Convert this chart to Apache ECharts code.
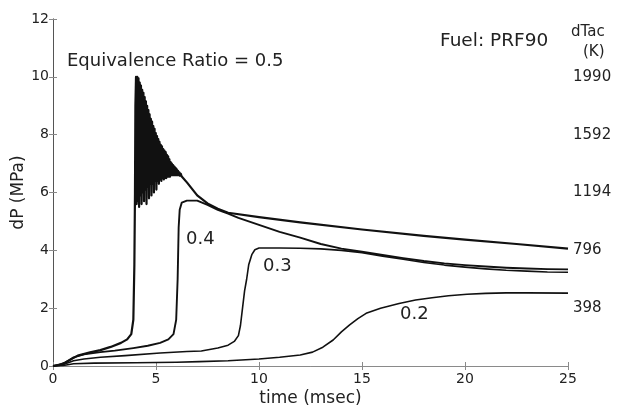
<!DOCTYPE html>
<html>
<head>
<meta charset="utf-8">
<script src="https://cdn.jsdelivr.net/npm/echarts@6/dist/echarts.min.js"></script>
<style>html,body{margin:0;padding:0;background:#fff}#c{width:621px;height:408px}</style>
</head>
<body>
<div id="c"></div>
<script>
// time (msec) / dP (MPa)
const phi05 = [[0,0],[0.3,0.03],[0.6,0.12],[0.85,0.22],[1.2,0.36],[1.8,0.47],[2.3,0.55],[2.8,0.66],[3.3,0.8],[3.6,0.92],[3.8,1.1],[3.9,1.6],[3.95,3.5],[3.98,6],[4.0,9],[4.03,10.0],
  [4.06,5.6],[4.09,10.0],[4.12,5.7],[4.15,9.95],[4.18,5.5],[4.21,9.8],[4.24,5.9],[4.27,9.7],[4.30,5.6],[4.33,9.55],[4.36,6.0],[4.39,9.45],[4.42,5.7],[4.45,9.3],[4.48,6.1],[4.51,9.15],[4.54,5.6],[4.57,9.0],[4.60,6.2],[4.63,8.85],[4.66,5.8],[4.69,8.7],[4.72,6.3],[4.75,8.55],[4.78,5.9],[4.81,8.45],[4.84,6.3],[4.87,8.3],[4.90,6.0],[4.93,8.2],[4.96,6.4],[4.99,8.05],[5.02,6.1],[5.05,7.95],[5.08,6.4],[5.11,7.85],[5.14,6.3],[5.17,7.75],[5.20,6.45],[5.23,7.65],[5.26,6.4],[5.29,7.6],[5.32,6.5],[5.35,7.5],[5.38,6.45],[5.41,7.45],[5.44,6.5],[5.47,7.4],[5.50,6.5],[5.53,7.3],[5.56,6.55],[5.59,7.25],[5.62,6.55],[5.65,7.15],[5.68,6.55],[5.71,7.05],[5.74,6.6],[5.77,7.0],[5.80,6.6],[5.83,6.95],[5.86,6.6],[5.89,6.9],[5.92,6.6],[5.95,6.85],[5.98,6.6],[6.01,6.8],[6.04,6.6],[6.07,6.75],[6.10,6.6],[6.13,6.7],[6.16,6.58],[6.20,6.65],[6.25,6.55],
  [6.5,6.35],[7.0,5.9],[7.5,5.62],[8.0,5.44],[8.5,5.3],[10,5.15],[12,4.97],[15,4.72],[18,4.5],[20,4.37],[22.5,4.22],[25,4.06]];
const phi04 = [[0,0],[0.5,0.08],[1.0,0.3],[1.5,0.4],[2.3,0.48],[3.0,0.53],[3.9,0.62],[4.6,0.7],[5.2,0.8],[5.6,0.92],[5.85,1.1],[5.98,1.6],[6.05,3],[6.1,4.8],[6.15,5.4],[6.25,5.65],[6.5,5.72],[7.0,5.72],[7.5,5.57],[8.0,5.4],[8.5,5.27],[9,5.12],[10,4.88],[11,4.64],[12,4.44],[13,4.22],[14,4.06],[15,3.95],[16,3.84],[17,3.73],[18,3.63],[19,3.55],[20,3.49],[21,3.44],[22,3.4],[23,3.37],[24,3.35],[25,3.34]];
const phi03 = [[0,0],[0.5,0.05],[1.0,0.18],[1.5,0.24],[2.3,0.3],[3.5,0.36],[5.2,0.45],[6.5,0.5],[7.2,0.52],[8.0,0.62],[8.5,0.72],[8.8,0.85],[9.0,1.05],[9.1,1.4],[9.2,2.0],[9.3,2.6],[9.4,3.0],[9.5,3.5],[9.65,3.85],[9.8,4.02],[10.0,4.08],[11,4.08],[12,4.07],[13,4.05],[14,4.0],[15,3.92],[16,3.8],[17,3.69],[18,3.58],[19,3.49],[20,3.42],[21,3.36],[22,3.31],[23,3.28],[24,3.25],[25,3.24]];
const phi02 = [[0,0],[0.5,0.02],[1,0.08],[2,0.1],[4,0.11],[6,0.13],[7.1,0.15],[8.5,0.18],[10,0.24],[11,0.3],[12,0.38],[12.6,0.48],[13.1,0.65],[13.6,0.9],[14.0,1.18],[14.4,1.42],[14.8,1.64],[15.2,1.82],[15.9,2.0],[16.8,2.16],[17.6,2.28],[18.4,2.36],[19.2,2.43],[20.1,2.48],[21,2.51],[22,2.53],[23,2.53],[25,2.52]];
const curveLabels = ['0.5','0.4','0.3','0.2'];
const xTicks = [0,5,10,15,20,25];
const yTicks = [0,2,4,6,8,10,12];
const rightTicks = [398,796,1194,1592,1990];

const FONT = 'DejaVu Sans';
const TXT = '#222';
const AX = '#8a8a8a';
const chart = echarts.init(document.getElementById('c'));
const mk = (name, data, w) => ({name, type:'line', data, showSymbol:false, smooth:false, sampling:null,
  lineStyle:{color:'#111', width:w, join:'round'}, xAxisIndex:0, yAxisIndex:0, animation:false});
chart.setOption({
  animation:false,
  textStyle:{fontFamily:FONT},
  grid:{left:53, right:53, top:19, bottom:42, outerBoundsMode:'none', containLabel:false},
  xAxis:[{type:'value', min:0, max:25, interval:5, position:'bottom',
    axisLine:{lineStyle:{color:AX}}, axisTick:{inside:true, length:4, lineStyle:{color:AX}},
    axisLabel:{color:TXT, fontSize:14, margin:6, fontFamily:FONT},
    splitLine:{show:false},
    name:'time (msec)', nameLocation:'middle', nameGap:24, nameMoveOverlap:false,
    nameTextStyle:{color:TXT, fontSize:17, fontFamily:FONT}},
    {type:'value', min:0, max:25, interval:5, position:'top',
    axisLine:{lineStyle:{color:AX}}, axisTick:{inside:true, length:4, lineStyle:{color:AX}},
    axisLabel:{show:false}, splitLine:{show:false}}],
  yAxis:[{type:'value', min:0, max:12, interval:2, position:'left',
    axisLine:{show:true, lineStyle:{color:AX}}, axisTick:{show:true, inside:true, length:4, lineStyle:{color:AX}},
    axisLabel:{color:TXT, fontSize:14, margin:4, fontFamily:FONT},
    splitLine:{show:false},
    name:'dP (MPa)', nameLocation:'middle', nameGap:26, nameMoveOverlap:false,
    nameTextStyle:{color:TXT, fontSize:17, fontFamily:FONT}},
    {type:'value', min:0, max:2388, interval:398, position:'right',
    axisLine:{show:true, lineStyle:{color:'#555'}}, axisTick:{show:true, inside:true, length:4, lineStyle:{color:AX}},
    axisLabel:{color:TXT, fontSize:15, margin:5, fontFamily:FONT,
      formatter:v => rightTicks.includes(Math.round(v)) ? String(Math.round(v)) : ''},
    splitLine:{show:false}}],
  series:[mk(curveLabels[0], phi05, 2.2), mk(curveLabels[1], phi04, 1.9), mk(curveLabels[2], phi03, 1.6), mk(curveLabels[3], phi02, 1.6)],
  graphic:[
    {type:'text', left:67, top:52, style:{text:'Equivalence Ratio = ' + curveLabels[0], fill:TXT, font:'18px ' + FONT}},
    {type:'text', left:440, top:32, style:{text:'Fuel: PRF90', fill:TXT, font:'18.5px ' + FONT}},
    {type:'text', left:186, top:230, style:{text:curveLabels[1], fill:TXT, font:'18px ' + FONT}},
    {type:'text', left:263, top:257, style:{text:curveLabels[2], fill:TXT, font:'18px ' + FONT}},
    {type:'text', left:400, top:305, style:{text:curveLabels[3], fill:TXT, font:'18px ' + FONT}},
    {type:'text', left:571, top:25, style:{text:'dTac', fill:TXT, font:'15px ' + FONT}},
    {type:'text', left:583, top:45, style:{text:'(K)', fill:TXT, font:'15px ' + FONT}}
  ]
});
</script>
</body>
</html>
